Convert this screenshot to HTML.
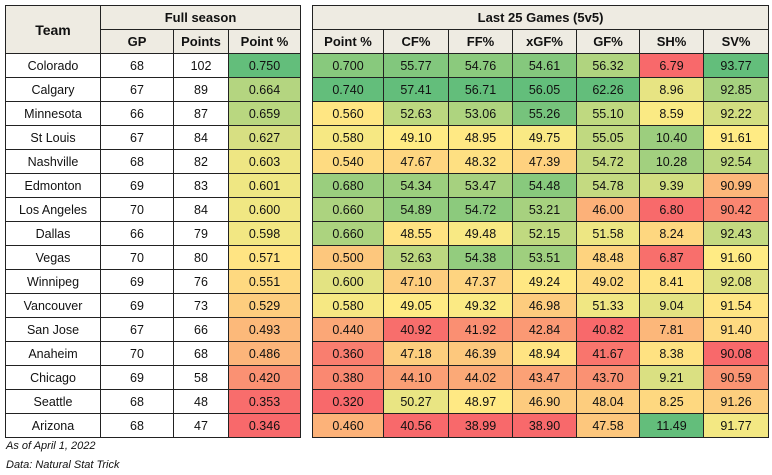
<!DOCTYPE html>
<html><head><meta charset="utf-8"><style>
body{margin:0;background:#fff;width:772px;height:475px;overflow:hidden;font-family:"Liberation Sans",Arial,sans-serif;position:relative}
table{position:absolute;top:5px;border-collapse:collapse;font-size:12.5px;table-layout:fixed}
td{border:1px solid #222;height:23px;padding:0;text-align:center;color:#111}
tr.h td{background:#eeebe2;font-weight:bold;font-size:13px}
.note{position:absolute;left:6px;font-size:11px;font-style:italic;color:#111}
</style></head><body>
<table id="L" style="left:5px;width:295px"></table>
<table id="R" style="left:312px;width:456px"></table>
<div class="note" style="top:440px">As of April 1, 2022</div>
<div class="note" style="top:459px">Data: Natural Stat Trick</div>
<script>
var D=[
["Colorado",68,102,"0.750","0.700","55.77","54.76","54.61","56.32","6.79","93.77"],
["Calgary",67,89,"0.664","0.740","57.41","56.71","56.05","62.26","8.96","92.85"],
["Minnesota",66,87,"0.659","0.560","52.63","53.06","55.26","55.10","8.59","92.22"],
["St Louis",67,84,"0.627","0.580","49.10","48.95","49.75","55.05","10.40","91.61"],
["Nashville",68,82,"0.603","0.540","47.67","48.32","47.39","54.72","10.28","92.54"],
["Edmonton",69,83,"0.601","0.680","54.34","53.47","54.48","54.78","9.39","90.99"],
["Los Angeles",70,84,"0.600","0.660","54.89","54.72","53.21","46.00","6.80","90.42"],
["Dallas",66,79,"0.598","0.660","48.55","49.48","52.15","51.58","8.24","92.43"],
["Vegas",70,80,"0.571","0.500","52.63","54.38","53.51","48.48","6.87","91.60"],
["Winnipeg",69,76,"0.551","0.600","47.10","47.37","49.24","49.02","8.41","92.08"],
["Vancouver",69,73,"0.529","0.580","49.05","49.32","46.98","51.33","9.04","91.54"],
["San Jose",67,66,"0.493","0.440","40.92","41.92","42.84","40.82","7.81","91.40"],
["Anaheim",70,68,"0.486","0.360","47.18","46.39","48.94","41.67","8.38","90.08"],
["Chicago",69,58,"0.420","0.380","44.10","44.02","43.47","43.70","9.21","90.59"],
["Seattle",68,48,"0.353","0.320","50.27","48.97","46.90","48.04","8.25","91.26"],
["Arizona",68,47,"0.346","0.460","40.56","38.99","38.90","47.58","11.49","91.77"]];
function col(c){var v=D.map(r=>+r[c]),s=v.slice().sort((a,b)=>a-b),mn=s[0],mx=s[s.length-1],n=s.length,md=(s[n/2-1]+s[n/2])/2;
return v.map(x=>{var R=[248,105,107],Y=[255,235,132],G=[99,190,123],a,b,t;
if(x<=md){a=R;b=Y;t=(x-mn)/(md-mn)}else{a=Y;b=G;t=(x-md)/(mx-md)}
return "rgb("+a.map((q,i)=>Math.round(q+(b[i]-q)*t)).join(",")+")"});}
var C={};for(var c=3;c<11;c++)C[c]=col(c);
var L='<colgroup><col style="width:95px"><col style="width:73px"><col style="width:55px"><col style="width:72px"></colgroup><tr class="h"><td rowspan="2" style="font-size:14px">Team</td><td colspan="3">Full season</td></tr><tr class="h"><td>GP</td><td>Points</td><td>Point %</td></tr>';
var Rh='<colgroup><col style="width:71px"><col style="width:65px"><col style="width:64px"><col style="width:64px"><col style="width:63px"><col style="width:64px"><col style="width:65px"></colgroup><tr class="h"><td colspan="7">Last 25 Games (5v5)</td></tr><tr class="h"><td>Point %</td><td>CF%</td><td>FF%</td><td>xGF%</td><td>GF%</td><td>SH%</td><td>SV%</td></tr>';
D.forEach((r,i)=>{L+='<tr><td>'+r[0]+'</td><td>'+r[1]+'</td><td>'+r[2]+'</td><td style="background:'+C[3][i]+'">'+r[3]+'</td></tr>';
Rh+='<tr>';for(var c=4;c<11;c++)Rh+='<td style="background:'+C[c][i]+'">'+r[c]+'</td>';Rh+='</tr>';});
document.getElementById('L').innerHTML=L;document.getElementById('R').innerHTML=Rh;
</script>
</body></html>
